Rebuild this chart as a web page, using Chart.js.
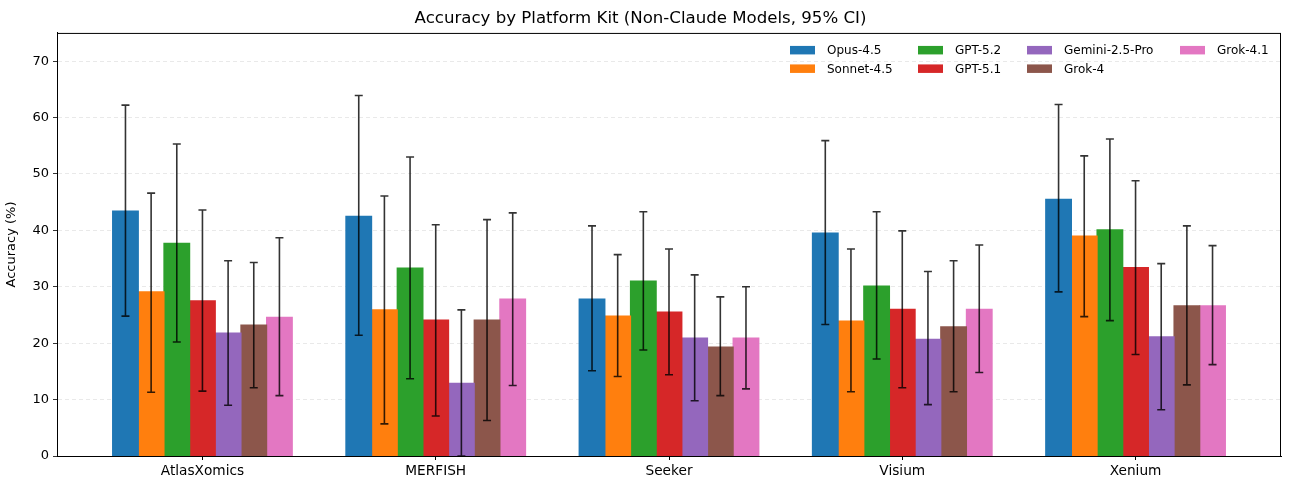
<!DOCTYPE html>
<html>
<head>
<meta charset="utf-8">
<script src="https://cdn.jsdelivr.net/npm/chart.js@4/dist/chart.umd.min.js"></script>
<style>
  body{margin:0;background:#fff;}
  #wrap{width:1289px;height:490px;}
</style>
</head>
<body>
<div id="wrap"><canvas id="accChart" width="1289" height="490"></canvas></div>
<script>
// categories on the x axis
const platforms=['AtlasXomics','MERFISH','Seeker','Visium','Xenium'];
const yTicks=[0,10,20,30,40,50,60,70];

// mean accuracy per model (%)
const opus   =[43.4,42.5,27.8,39.5,45.5];
const sonnet =[29.1,25.9,24.8,23.9,39.0];
const gpt52  =[37.7,33.3,31.0,30.1,40.1];
const gpt51  =[27.5,24.1,25.5,26.0,33.4];
const gemini =[21.8,12.9,20.9,20.7,21.1];
const grok4  =[23.2,24.1,19.3,22.9,26.6];
const grok41 =[24.6,27.8,20.9,26.0,26.6];

// 95% CI lower / upper bounds
const opusLo  =[24.8,21.4,15.1,23.3,29.1], opusHi  =[62.2,63.9,40.8,55.9,62.3];
const sonnetLo=[11.3,5.7,14.1,11.4,24.7],  sonnetHi=[46.6,46.1,35.7,36.7,53.2];
const gpt52Lo =[20.2,13.7,18.8,17.2,24.0], gpt52Hi =[55.3,53.0,43.3,43.3,56.2];
const gpt51Lo =[11.5,7.1,14.4,12.1,18.0],  gpt51Hi =[43.6,41.0,36.7,39.9,48.8];
const geminiLo=[9.0,0.0,9.8,9.1,8.2],      geminiHi=[34.6,25.9,32.1,32.7,34.1];
const grok4Lo =[12.1,6.3,10.7,11.4,12.6],  grok4Hi =[34.3,41.9,28.2,34.6,40.8];
const grok41Lo=[10.7,12.5,11.9,14.8,16.2], grok41Hi=[38.7,43.1,30.0,37.4,37.3];

const models=['Opus-4.5','Sonnet-4.5','GPT-5.2','GPT-5.1','Gemini-2.5-Pro','Grok-4','Grok-4.1'];
const colors=['#1f77b4','#ff7f0e','#2ca02c','#d62728','#9467bd','#8c564b','#e377c2'];
const values=[opus,sonnet,gpt52,gpt51,gemini,grok4,grok41];
const lows=[opusLo,sonnetLo,gpt52Lo,gpt51Lo,geminiLo,grok4Lo,grok41Lo];
const highs=[opusHi,sonnetHi,gpt52Hi,gpt51Hi,geminiHi,grok4Hi,grok41Hi];

const FONT='"DejaVu Sans", sans-serif';

// error bars + frame + matplotlib style legend
const extras={
    id:'extras',
    afterDatasetsDraw(chart){
        const ctx=chart.ctx;
        const y=chart.scales.y;
        ctx.save();
        ctx.strokeStyle='rgba(0,0,0,0.8)';
        ctx.lineWidth=1.6;
        chart.data.datasets.forEach((ds,i)=>{
            const meta=chart.getDatasetMeta(i);
            meta.data.forEach((bar,j)=>{
                const x=bar.x;
                const yl=y.getPixelForValue(ds.lo[j]);
                const yh=y.getPixelForValue(ds.hi[j]);
                ctx.beginPath();
                ctx.moveTo(x,yl);ctx.lineTo(x,yh);
                ctx.moveTo(x-4,yl);ctx.lineTo(x+4,yl);
                ctx.moveTo(x-4,yh);ctx.lineTo(x+4,yh);
                ctx.stroke();
            });
        });
        ctx.restore();
    },
    afterDraw(chart){
        const ctx=chart.ctx;
        const a=chart.chartArea;
        ctx.save();
        // axes frame
        ctx.strokeStyle='#000';
        ctx.lineWidth=1;
        ctx.strokeRect(a.left+0.5,a.top+0.5,a.right-a.left-1,a.bottom-a.top);
        // legend, 4 columns, column-major order
        const colX=[a.left+733,a.left+861,a.left+970,a.left+1123];
        const rowY=[a.top+17,a.top+35.5];
        ctx.font='12px '+FONT;
        ctx.textBaseline='middle';
        chart.data.datasets.forEach((ds,i)=>{
            const c=Math.floor(i/2), r=i%2;
            ctx.fillStyle=ds.backgroundColor;
            ctx.fillRect(colX[c],rowY[r]-4,25,8.5);
            ctx.fillStyle='#000';
            ctx.fillText(ds.label,colX[c]+37,rowY[r]+1);
        });
        ctx.restore();
    }
};

window.addEventListener('load',()=>{
    const ctx=document.getElementById('accChart').getContext('2d');
    const datasets=models.map((m,i)=>({
        label:m,
        data:values[i].map((v,j)=>({x:j,y:v})),
        lo:lows[i],
        hi:highs[i],
        backgroundColor:colors[i],
        borderWidth:0,
        inflateAmount:0.6,
        categoryPercentage:0.77,
        barPercentage:1.0
    }));
    new Chart(ctx,{
        type:'bar',
        data:{datasets:datasets},
        options:{
            responsive:false,
            animation:false,
            devicePixelRatio:1,
            layout:{padding:{top:0,right:8,left:0,bottom:0}},
            plugins:{
                legend:{display:false},
                tooltip:{enabled:false},
                title:{
                    display:true,
                    text:'Accuracy by Platform Kit (Non-Claude Models, 95% CI)',
                    color:'#000',
                    font:{family:FONT,size:16.6,weight:'normal'},
                    padding:{top:9,bottom:4}
                }
            },
            scales:{
                x:{
                    type:'linear',
                    min:-0.6235,max:4.6235,
                    offset:false,
                    afterBuildTicks(s){s.ticks=platforms.map((p,i)=>({value:i}));},
                    grid:{display:true,drawOnChartArea:false,drawTicks:true,tickLength:4,color:'#000',offset:false},
                    border:{display:true,color:'#000'},
                    ticks:{color:'#000',font:{family:FONT,size:13.7},padding:3,autoSkip:false,maxRotation:0,
                        callback:(v)=>platforms[v]},
                    afterFit(s){s.height=34;}
                },
                y:{
                    min:0,max:75,
                    afterBuildTicks(s){s.ticks=yTicks.map(v=>({value:v}));},
                    grid:{color:'#e3e3e3',lineWidth:0.8,tickLength:4,tickColor:'#000',drawTicks:true},
                    border:{display:true,color:'#000',dash:[4,3]},
                    ticks:{color:'#000',font:{family:FONT,size:13},padding:4},
                    title:{display:true,text:'Accuracy (%)',color:'#000',font:{family:FONT,size:13},padding:{bottom:6}},
                    afterFit(s){s.width=57;}
                }
            }
        },
        plugins:[extras]
    });
});
</script>
</body>
</html>
